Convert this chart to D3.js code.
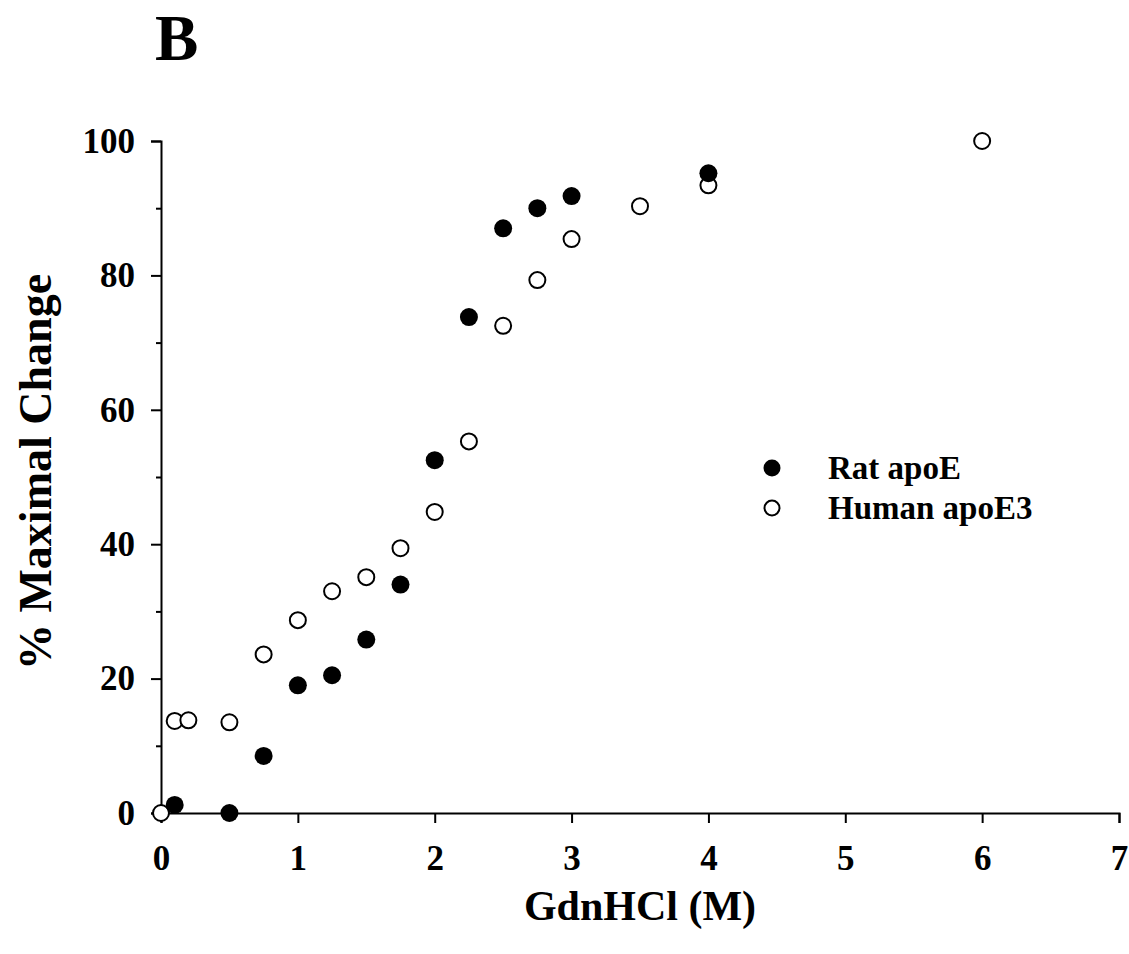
<!DOCTYPE html>
<html>
<head>
<meta charset="utf-8">
<script src="https://cdn.jsdelivr.net/npm/d3@7"></script>
<style>
  body { margin: 0; background: #fff; }
  svg { display: block; font-family: 'Liberation Serif', 'Times New Roman', serif; font-weight: bold; }
</style>
</head>
<body>
<svg id="chart" width="1129" height="954"></svg>
<script>
// GdnHCl concentrations (M) and % maximal change
const ratX = [0.1, 0.5, 0.75, 1.0, 1.25, 1.5, 1.75, 2.0, 2.25, 2.5, 2.75, 3.0, 4.0];
const ratY = [1.2, 0, 8.5, 19, 20.5, 25.8, 34, 52.5, 73.8, 87, 90, 91.8, 95.2];
const humanX = [0, 0.1, 0.2, 0.5, 0.75, 1.0, 1.25, 1.5, 1.75, 2.0, 2.25, 2.5, 2.75, 3.0, 3.5, 4.0, 6.0];
const humanY = [0, 13.7, 13.8, 13.5, 23.6, 28.7, 33, 35.1, 39.4, 44.8, 55.3, 72.5, 79.3, 85.4, 90.3, 93.4, 100];
const xTicks = [0, 1, 2, 3, 4, 5, 6, 7];
const yTicks = [0, 20, 40, 60, 80, 100];
const yMinorTicks = [10, 30, 50, 70, 90];
const seriesNames = ['Rat apoE', 'Human apoE3'];

const margin = { top: 141, right: 10, bottom: 141, left: 161 };
const w = 1129;
const h = 954;

const svg = d3.select('#chart');

const xScale = d3.scaleLinear()
  .domain([0, 7])
  .range([margin.left, 1119]);
const yScale = d3.scaleLinear()
  .domain([0, 100])
  .range([813, margin.top]);

// panel letter
svg.append('text')
  .attr('x', 155)
  .attr('y', 60)
  .style('font-size', '65px')
  .text('B');

// axes
svg.append('g')
  .attr('transform', `translate(0, ${yScale(0)})`)
  .call(d3.axisBottom(xScale)
    .tickValues(xTicks)
    .tickSize(10)
    .tickPadding(22)
    .tickFormat(d3.format('d')));

svg.append('g')
  .attr('transform', `translate(${xScale(0)}, 0)`)
  .call(d3.axisLeft(yScale)
    .tickValues(yTicks)
    .tickSize(10)
    .tickPadding(16)
    .tickFormat(d3.format('d')));

svg.append('g')
  .attr('transform', `translate(${xScale(0)}, 0)`)
  .call(d3.axisLeft(yScale)
    .tickValues(yMinorTicks)
    .tickSize(5)
    .tickFormat(''))
  .select('.domain').remove();

svg.selectAll('.domain')
  .attr('stroke', '#000')
  .attr('stroke-width', 2);
svg.selectAll('.tick line')
  .attr('stroke', '#000')
  .attr('stroke-width', 2);
svg.selectAll('.tick text')
  .attr('fill', '#000')
  .style('font-family', "'Liberation Serif', 'Times New Roman', serif")
  .style('font-weight', 'bold')
  .style('font-size', '35px');

// axis titles
svg.append('text')
  .attr('x', 640)
  .attr('y', 920)
  .attr('text-anchor', 'middle')
  .style('font-size', '42px')
  .text('GdnHCl (M)');

svg.append('text')
  .attr('transform', 'translate(51, 472) rotate(-90)')
  .attr('text-anchor', 'middle')
  .style('font-size', '46px')
  .text('% Maximal Change');

// points
const plot = svg.append('g');

plot.selectAll('circle.human')
  .data(humanX.map((x, i) => ({ x, y: humanY[i] })))
  .enter()
  .append('circle')
  .attr('class', 'human')
  .attr('cx', d => xScale(d.x))
  .attr('cy', d => yScale(d.y))
  .attr('r', 8)
  .attr('fill', '#fff')
  .attr('stroke', '#000')
  .attr('stroke-width', 2);

plot.selectAll('circle.rat')
  .data(ratX.map((x, i) => ({ x, y: ratY[i] })))
  .enter()
  .append('circle')
  .attr('class', 'rat')
  .attr('cx', d => xScale(d.x))
  .attr('cy', d => yScale(d.y))
  .attr('r', 9)
  .attr('fill', '#000');

// legend
const legend = svg.append('g').attr('transform', 'translate(772, 468)');

legend.selectAll('circle')
  .data(seriesNames)
  .enter()
  .append('circle')
  .attr('cx', 0)
  .attr('cy', (d, i) => i * 40)
  .attr('r', (d, i) => i === 0 ? 8.5 : 7.5)
  .attr('fill', (d, i) => i === 0 ? '#000' : '#fff')
  .attr('stroke', '#000')
  .attr('stroke-width', (d, i) => i === 0 ? 0 : 2);

legend.selectAll('text')
  .data(seriesNames)
  .enter()
  .append('text')
  .attr('x', 56)
  .attr('y', (d, i) => i * 40 + 11)
  .style('font-size', '33px')
  .text(d => d);
</script>
</body>
</html>
